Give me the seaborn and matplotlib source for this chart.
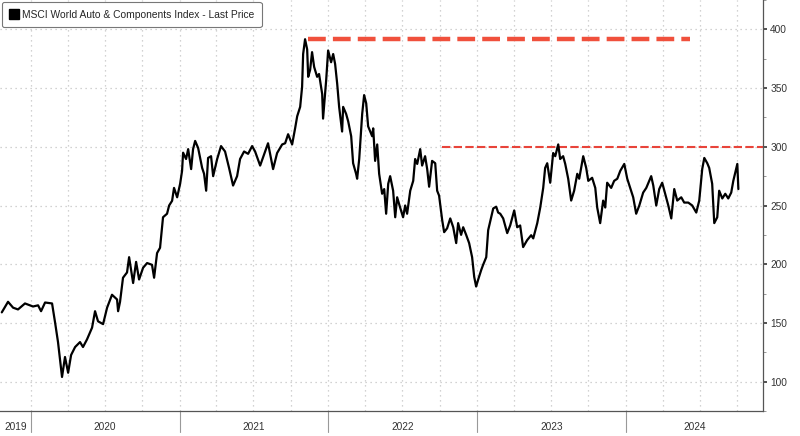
import numpy as np
import pandas as pd
import matplotlib
matplotlib.use("Agg")
import matplotlib.pyplot as plt
import matplotlib.dates as mdates
from matplotlib.lines import Line2D
import seaborn as sns

# time in years after 2020-01-01 and index level
t_years = [
    -0.194, -0.152, -0.118, -0.085, -0.038, 0.016, 0.050, 0.070, 0.097, 0.144,
    0.164, 0.184, 0.211, 0.231, 0.252, 0.272, 0.299, 0.332, 0.352, 0.379,
    0.413, 0.433, 0.453, 0.487, 0.514, 0.547, 0.581, 0.588, 0.601, 0.621,
    0.648, 0.662, 0.689, 0.709, 0.729, 0.756, 0.783, 0.816, 0.830, 0.850,
    0.870, 0.890, 0.917, 0.931, 0.951, 0.964, 0.985, 1.005, 1.018, 1.025,
    1.045, 1.059, 1.079, 1.092, 1.106, 1.126, 1.153, 1.166, 1.180, 1.193,
    1.213, 1.227, 1.254, 1.280, 1.307, 1.334, 1.361, 1.388, 1.408, 1.435,
    1.462, 1.489, 1.509, 1.543, 1.576, 1.596, 1.630, 1.657, 1.691, 1.711,
    1.731, 1.758, 1.778, 1.792, 1.812, 1.825, 1.832, 1.845, 1.859, 1.866,
    1.879, 1.892, 1.906, 1.926, 1.939, 1.960, 1.966, 1.987, 2.000, 2.020,
    2.034, 2.047, 2.061, 2.074, 2.094, 2.101, 2.121, 2.135, 2.155, 2.168,
    2.188, 2.195, 2.209, 2.229, 2.242, 2.256, 2.269, 2.296, 2.303, 2.316,
    2.330, 2.343, 2.363, 2.377, 2.390, 2.404, 2.417, 2.437, 2.451, 2.464,
    2.484, 2.504, 2.518, 2.531, 2.552, 2.572, 2.585, 2.599, 2.619, 2.632,
    2.652, 2.666, 2.679, 2.699, 2.720, 2.733, 2.746, 2.767, 2.780, 2.800,
    2.821, 2.841, 2.861, 2.874, 2.894, 2.908, 2.928, 2.948, 2.968, 2.982,
    2.995, 3.009, 3.029, 3.042, 3.063, 3.076, 3.096, 3.110, 3.130, 3.143,
    3.157, 3.177, 3.204, 3.224, 3.251, 3.271, 3.291, 3.311, 3.338, 3.365,
    3.379, 3.406, 3.426, 3.446, 3.459, 3.473, 3.493, 3.513, 3.527, 3.547,
    3.560, 3.580, 3.594, 3.614, 3.634, 3.654, 3.675, 3.688, 3.715, 3.735,
    3.749, 3.775, 3.796, 3.809, 3.829, 3.849, 3.863, 3.876, 3.903, 3.923,
    3.944, 3.964, 3.991, 4.011, 4.031, 4.051, 4.071, 4.092, 4.118, 4.139,
    4.172, 4.186, 4.206, 4.226, 4.246, 4.266, 4.287, 4.307, 4.327, 4.347,
    4.374, 4.394, 4.421, 4.448, 4.475, 4.495, 4.515, 4.529, 4.549, 4.562,
    4.582, 4.596, 4.616, 4.629, 4.650, 4.670, 4.690, 4.710, 4.724, 4.751,
    4.758,
]
price = [
    159, 168, 163, 161.5, 166.6, 164, 165, 160, 167.4, 166.6,
    150.6, 133.7, 104, 121, 107.6, 122.7, 129.5, 133.7, 129.5, 136,
    146, 160, 151.4, 149, 163, 174, 170, 160, 168, 188.5,
    193, 206, 184, 202, 187, 197, 201, 199.5, 188.5, 209.5,
    214, 240, 243, 250, 254, 265, 257, 268.5, 279.5, 295,
    289.6, 298, 281, 298, 305, 299, 282, 277, 262.6, 290.5,
    292, 275, 289.6, 300.6, 296, 282, 267, 275, 289.6, 296,
    294, 300.6, 296, 284, 296, 303, 281, 294.7, 302, 303,
    310.7, 302, 315.7, 326, 334, 351, 379, 391.6, 383, 359.6,
    365.5, 380.6, 368, 359.6, 362, 345, 324, 357, 382, 372,
    379, 370.5, 353.6, 334, 313, 334, 328, 321.6, 309, 286,
    277, 272.8, 289.6, 328, 344, 337, 317.4, 309, 315.7, 288,
    302, 277, 260, 264, 243, 268.5, 275, 262.6, 240, 257,
    248.3, 240, 250, 243, 262.6, 271, 289.6, 285.4, 298, 284,
    292, 281, 266, 288, 286, 262.6, 258.4, 237.4, 227.3, 230.6,
    239, 231.5, 218, 235, 225, 231.5, 225, 218, 206, 189.3,
    181, 187, 195, 199.5, 206, 229, 240, 247.5, 249, 244,
    243, 239, 226.5, 233, 245.8, 231.5, 233, 214.6, 220.5, 224.7,
    222, 235, 248.3, 265, 282, 286, 269.4, 294.7, 292, 302,
    289.6, 292, 285.4, 272.8, 254.2, 262.6, 277, 272.8, 292, 282,
    271, 273.6, 265, 248.3, 235, 254.2, 248.3, 269.4, 265, 271,
    272.8, 279.5, 285.4, 272.8, 265, 257, 243, 250, 261, 265,
    275, 267, 250, 264, 269.4, 260, 250, 239, 264, 254.2,
    257, 252.5, 252.5, 250, 244, 254.2, 281, 290.5, 286, 282,
    268.5, 235, 240, 262.6, 256, 260, 256, 261, 271, 285.4,
    264,
]

# red reference levels (years after 2020-01-01)
peak_level, peak_start, peak_end = 392, 1.866, 4.434
resist_level, resist_start = 300, 2.767

legend_label = "MSCI World Auto & Components Index - Last Price"
year_labels = [2019, 2020, 2021, 2022, 2023, 2024]

base = pd.Timestamp("2020-01-01")
def to_date(t):
    return base + pd.to_timedelta(np.asarray(t) * 365.25, unit="D")

df = pd.DataFrame({"date": to_date(t_years), "price": price})

sns.set_style("white")
plt.rcParams["font.family"] = ["Liberation Sans", "DejaVu Sans"]

fig = plt.figure(figsize=(8, 4.36), dpi=100)
ax = fig.add_axes([0.0, 0.0573, 0.954, 0.9427])

x0, x1 = to_date(-0.206), to_date(4.925)

# grid
ax.set_axisbelow(True)
for v in range(100, 401, 50):
    ax.axhline(v, color="#c4c4c4", lw=0.9, ls=(0, (1, 3)), zorder=0)
for q in pd.date_range("2019-10-01", "2024-12-31", freq="QS"):
    ax.axvline(q, color="#c4c4c4", lw=0.9, ls=(0, (1, 3)), zorder=0)

sns.lineplot(data=df, x="date", y="price", color="black", lw=1.6, ax=ax, zorder=3)

ax.plot([to_date(peak_start), to_date(peak_end)], [peak_level] * 2,
        color="#f0503c", lw=3.2, ls=(0, (4, 1.6)), solid_capstyle="butt", zorder=2)
ax.plot([to_date(resist_start), x1], [resist_level] * 2,
        color="#e8443a", lw=1.5, ls=(0, (4, 1.6)), zorder=2)

ax.set_xlim(x0, x1)
ax.set_ylim(76.4, 422.8)

for s in ["top", "left"]:
    ax.spines[s].set_visible(False)
for s in ["right", "bottom"]:
    ax.spines[s].set_color("#555555")
    ax.spines[s].set_linewidth(0.9)

ax.yaxis.tick_right()
ax.set_yticks(range(100, 401, 50))
ax.set_yticks(range(75, 426, 25), minor=True)
ax.tick_params(axis="y", which="major", direction="out", length=3, width=1.2,
               colors="#333333", labelsize=7.3, pad=2)
ax.tick_params(axis="y", which="minor", direction="out", length=2, width=0.6, color="#888888")

ax.xaxis.set_major_locator(mdates.MonthLocator())
ax.xaxis.set_major_formatter(plt.NullFormatter())
ax.tick_params(axis="x", which="major", direction="inout", length=4, width=0.6, color="#555555")
ax.set_xlabel("")
ax.set_ylabel("")

# year separators and centred year labels
trans = ax.get_xaxis_transform()
for yr in year_labels:
    start, end = pd.Timestamp(f"{yr}-01-01"), pd.Timestamp(f"{yr + 1}-01-01")
    if start > x0:
        ax.plot([start, start], [0, -0.052], color="#999999", lw=0.8,
                transform=trans, clip_on=False)
    mid = max(start, x0) + (min(end, x1) - max(start, x0)) / 2
    ax.text(mid, -0.04, str(yr), transform=trans, ha="center", va="center",
            fontsize=7.3, color="#333333")

handle = Line2D([], [], marker="s", color="black", ls="none", markersize=7)
leg = ax.legend([handle], [legend_label], loc="upper left", bbox_to_anchor=(0.002, 0.995),
                fontsize=7.4, frameon=True, handletextpad=0.3, handlelength=0.9,
                borderpad=0.75, borderaxespad=0, fancybox=True)
leg.get_frame().set_edgecolor("#777777")
leg.get_frame().set_linewidth(0.8)
leg.get_frame().set_alpha(1)

fig.savefig("out.png", dpi=100)
